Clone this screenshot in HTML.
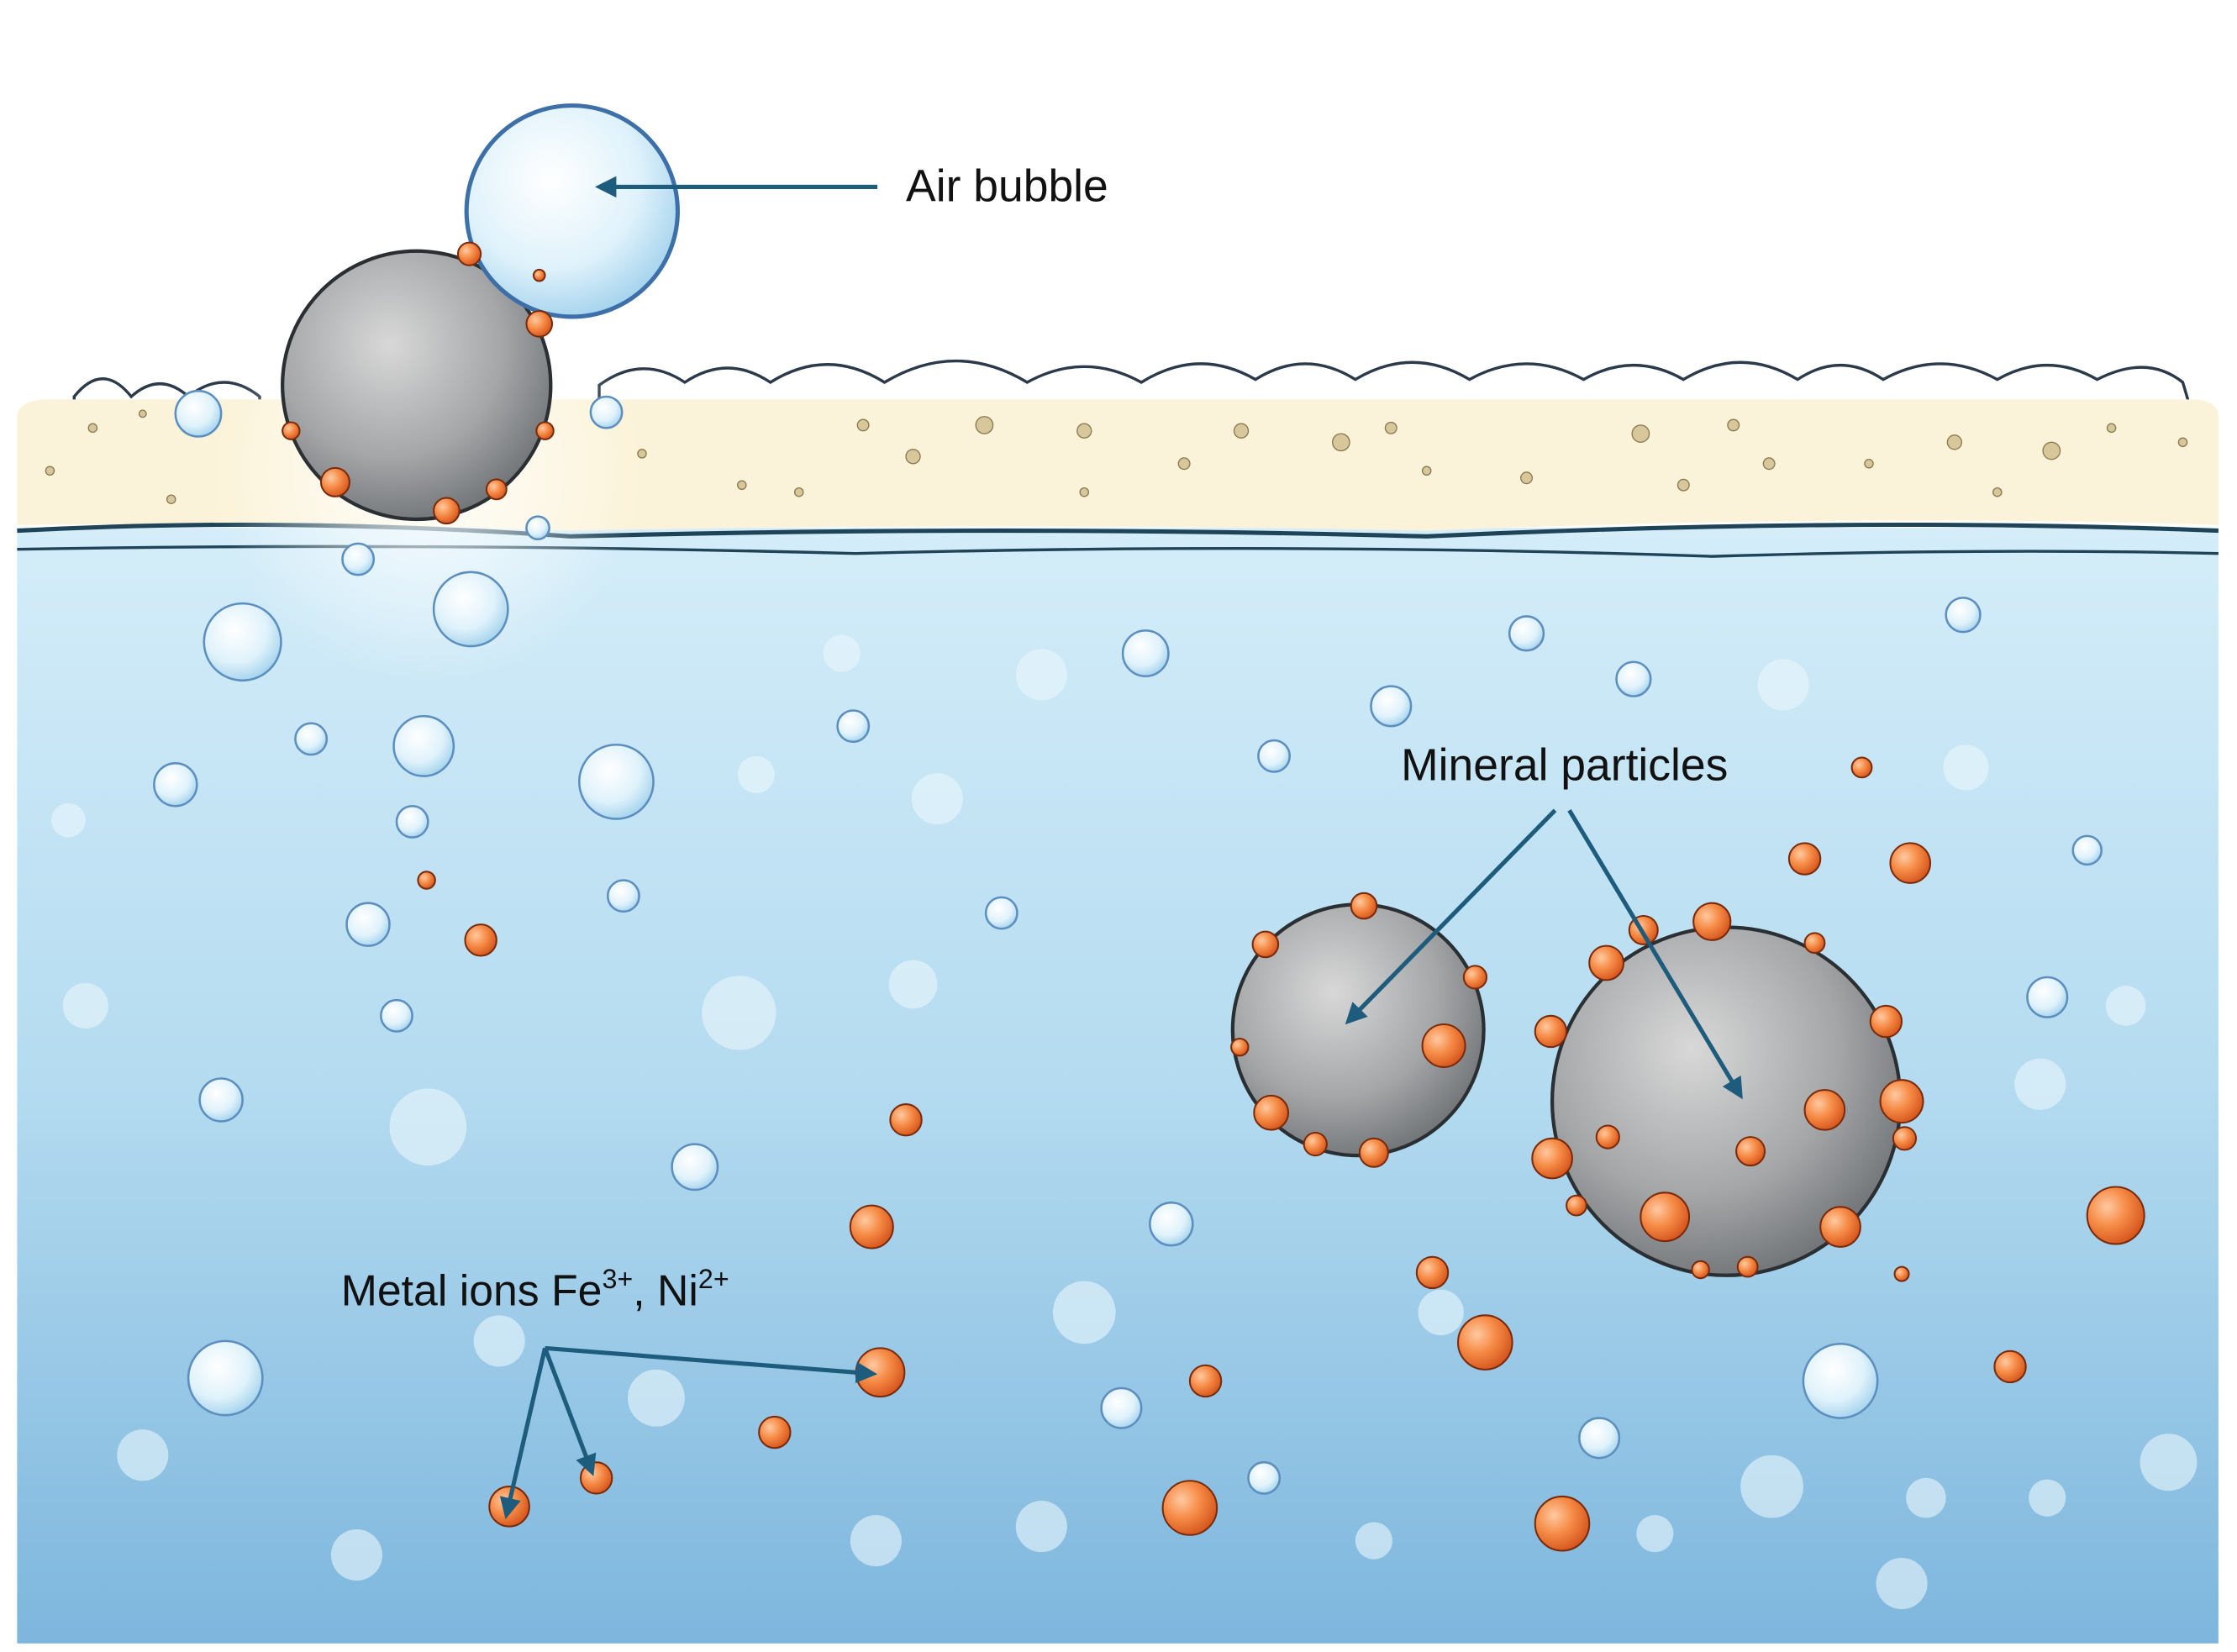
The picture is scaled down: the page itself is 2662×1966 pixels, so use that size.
<!DOCTYPE html>
<html><head><meta charset="utf-8"><style>
html,body{margin:0;padding:0;background:#fff}
svg{display:block}
text{font-family:"Liberation Sans",sans-serif;fill:#111}
</style></head><body>
<svg width="2662" height="1966" viewBox="0 0 1568 1158" preserveAspectRatio="none" xmlns="http://www.w3.org/2000/svg">
<defs>
<linearGradient id="w" x1="0" y1="0" x2="0" y2="1">
<stop offset="0" stop-color="#d4edf9"/><stop offset="0.5" stop-color="#b4dbf0"/><stop offset="1" stop-color="#7db6dd"/>
</linearGradient>
<radialGradient id="b" cx="0.4" cy="0.35" r="0.7">
<stop offset="0" stop-color="#ffffff"/><stop offset="0.6" stop-color="#dff2fb"/><stop offset="1" stop-color="#9fd0ec"/>
</radialGradient>
<radialGradient id="o" cx="0.35" cy="0.35" r="0.7">
<stop offset="0" stop-color="#ffc9a0"/><stop offset="0.5" stop-color="#f58a45"/><stop offset="1" stop-color="#d4541c"/>
</radialGradient>
<radialGradient id="g" cx="0.4" cy="0.35" r="0.7">
<stop offset="0" stop-color="#d8d8d8"/><stop offset="0.6" stop-color="#a4a6a8"/><stop offset="1" stop-color="#6e7174"/>
</radialGradient>
<radialGradient id="glow" cx="0.5" cy="0.5" r="0.5">
<stop offset="0" stop-color="#ffffff" stop-opacity="0.9"/><stop offset="1" stop-color="#ffffff" stop-opacity="0"/>
</radialGradient>
<marker id="ar" viewBox="0 0 10 10" refX="8" refY="5" markerWidth="5" markerHeight="5" orient="auto"><path d="M0,0L10,5L0,10z" fill="#1d5c7c"/></marker>
</defs>
<!-- water -->
<rect x="12" y="370" width="1543" height="782" fill="url(#w)"/>
<!-- froth bumps -->
<path d="M52,285 L52,278 q20,-25 40,0 q20,-18 40,0 q25,-20 50,0 L182,285 Z" fill="#fff" stroke="#2a3a4a" stroke-width="2"/>
<path d="M420,285 L420,270 q30,-22 60,-2 q30,-20 60,0 q40,-25 80,0 q50,-30 100,0 q40,-22 80,0 q40,-25 80,-2 q35,-22 70,0 q40,-24 80,0 q40,-22 80,0 q35,-20 70,0 q40,-24 80,0 q30,-20 60,0 q40,-22 80,0 q35,-20 70,0 q35,-18 60,2 L1535,285 Z" fill="#fff" stroke="#2a3a4a" stroke-width="2"/>
<!-- froth -->
<path d="M12,292 Q12,282 30,280 L1540,280 Q1555,282 1555,292 L1555,368 Q1300,360 1000,372 Q700,366 400,372 Q200,366 12,368 Z" fill="#fbf3d9"/>
<path d="M12,372 Q200,362 400,376 Q700,368 1000,376 Q1300,362 1555,372" fill="none" stroke="#1f4458" stroke-width="3"/>
<path d="M12,385 Q300,380 600,388 Q900,380 1200,390 Q1400,384 1555,388" fill="none" stroke="#1f4458" stroke-width="2"/>
<g fill="#d8c79a" stroke="#8a7a50" stroke-width="0.8">
<circle cx="65" cy="300" r="3"/><circle cx="35" cy="330" r="3"/><circle cx="100" cy="290" r="2.5"/><circle cx="120" cy="350" r="3"/>
<circle cx="450" cy="318" r="3"/><circle cx="520" cy="340" r="3"/><circle cx="605" cy="298" r="4"/><circle cx="640" cy="320" r="5"/>
<circle cx="690" cy="298" r="6"/><circle cx="760" cy="302" r="5"/><circle cx="830" cy="325" r="4"/><circle cx="870" cy="302" r="5"/>
<circle cx="940" cy="310" r="6"/><circle cx="975" cy="300" r="4"/><circle cx="1000" cy="330" r="3"/><circle cx="1070" cy="335" r="4"/>
<circle cx="1150" cy="304" r="6"/><circle cx="1215" cy="298" r="4"/><circle cx="1240" cy="325" r="4"/><circle cx="1310" cy="325" r="3"/>
<circle cx="1370" cy="310" r="5"/><circle cx="1438" cy="316" r="6"/><circle cx="1480" cy="300" r="3"/><circle cx="1530" cy="310" r="3"/>
<circle cx="560" cy="345" r="3"/><circle cx="760" cy="345" r="3"/><circle cx="1180" cy="340" r="4"/><circle cx="1400" cy="345" r="3"/>
</g>
<circle cx="300" cy="330" r="150" fill="url(#glow)"/>
<!-- bubbles -->
<g fill="url(#b)" stroke="#5c8fbf" stroke-width="1.5">
<circle cx="170" cy="450" r="27"/><circle cx="330" cy="427" r="26"/><circle cx="297" cy="523" r="21"/><circle cx="432" cy="548" r="26"/>
<circle cx="123" cy="550" r="15"/><circle cx="218" cy="518" r="11"/><circle cx="289" cy="576" r="11"/><circle cx="258" cy="648" r="15"/>
<circle cx="437" cy="628" r="11"/><circle cx="278" cy="712" r="11"/><circle cx="155" cy="771" r="15"/><circle cx="487" cy="818" r="16"/>
<circle cx="158" cy="966" r="26"/><circle cx="803" cy="458" r="16"/><circle cx="975" cy="495" r="14"/><circle cx="1070" cy="444" r="12"/>
<circle cx="1145" cy="476" r="12"/><circle cx="893" cy="530" r="11"/><circle cx="1376" cy="431" r="12"/><circle cx="702" cy="640" r="11"/>
<circle cx="1435" cy="699" r="14"/><circle cx="1463" cy="596" r="10"/><circle cx="821" cy="858" r="15"/><circle cx="786" cy="987" r="14"/>
<circle cx="1290" cy="968" r="26"/><circle cx="1121" cy="1008" r="14"/><circle cx="886" cy="1036" r="11"/><circle cx="139" cy="290" r="16"/>
<circle cx="425" cy="289" r="11"/><circle cx="251" cy="392" r="11"/><circle cx="377" cy="370" r="8"/><circle cx="598" cy="509" r="11"/>
</g>
<g fill="#eaf6fc" opacity="0.6">
<circle cx="730" cy="473" r="18"/><circle cx="657" cy="560" r="18"/><circle cx="518" cy="710" r="26"/><circle cx="300" cy="790" r="27"/>
<circle cx="590" cy="458" r="13"/><circle cx="530" cy="543" r="13"/><circle cx="760" cy="920" r="22"/><circle cx="1242" cy="1042" r="22"/>
<circle cx="1333" cy="1110" r="18"/><circle cx="1520" cy="1025" r="20"/><circle cx="1435" cy="1050" r="13"/><circle cx="614" cy="1080" r="18"/>
<circle cx="963" cy="1080" r="13"/><circle cx="1160" cy="1075" r="13"/><circle cx="1250" cy="480" r="18"/><circle cx="1378" cy="538" r="16"/>
<circle cx="60" cy="705" r="16"/><circle cx="48" cy="575" r="12"/><circle cx="1490" cy="705" r="14"/><circle cx="1430" cy="760" r="18"/>
<circle cx="460" cy="980" r="20"/><circle cx="350" cy="940" r="18"/><circle cx="640" cy="690" r="17"/><circle cx="1010" cy="920" r="16"/>
<circle cx="100" cy="1020" r="18"/><circle cx="250" cy="1090" r="18"/><circle cx="730" cy="1070" r="18"/><circle cx="1350" cy="1050" r="14"/>
</g>
<!-- particles -->
<g stroke="#2a2f33" stroke-width="2.5" fill="url(#g)">
<circle cx="292" cy="270" r="94"/><circle cx="952" cy="722" r="88"/><circle cx="1210" cy="772" r="122"/>
</g>
<circle cx="401" cy="148" r="74" fill="url(#b)" stroke="#3d6fa8" stroke-width="3"/>
<!-- orange -->
<g fill="url(#o)" stroke="#7a2a0a" stroke-width="1.2">
<circle cx="329" cy="178" r="8"/><circle cx="378" cy="227" r="9"/><circle cx="235" cy="338" r="10"/><circle cx="313" cy="358" r="9"/><circle cx="348" cy="343" r="7"/><circle cx="378" cy="193" r="4"/><circle cx="204" cy="302" r="6"/><circle cx="382" cy="302" r="6"/>
<circle cx="337" cy="659" r="11"/><circle cx="299" cy="617" r="6"/><circle cx="635" cy="785" r="11"/><circle cx="611" cy="860" r="15"/>
<circle cx="617" cy="962" r="17"/><circle cx="543" cy="1004" r="11"/><circle cx="418" cy="1036" r="11"/><circle cx="357" cy="1056" r="14"/>
<circle cx="834" cy="1057" r="19"/><circle cx="845" cy="968" r="11"/><circle cx="1041" cy="941" r="19"/><circle cx="1004" cy="892" r="11"/>
<circle cx="1095" cy="1068" r="19"/><circle cx="1409" cy="958" r="11"/><circle cx="1483" cy="852" r="20"/><circle cx="1265" cy="602" r="11"/>
<circle cx="1339" cy="605" r="14"/><circle cx="1305" cy="538" r="7"/><circle cx="1333" cy="893" r="5"/>
<circle cx="956" cy="635" r="9"/><circle cx="887" cy="662" r="9"/><circle cx="1034" cy="685" r="8"/><circle cx="1012" cy="733" r="15"/>
<circle cx="891" cy="780" r="12"/><circle cx="963" cy="808" r="10"/><circle cx="922" cy="802" r="8"/><circle cx="869" cy="734" r="6"/>
<circle cx="1200" cy="646" r="13"/><circle cx="1152" cy="652" r="10"/><circle cx="1126" cy="675" r="12"/><circle cx="1272" cy="661" r="7"/>
<circle cx="1322" cy="716" r="11"/><circle cx="1333" cy="772" r="15"/><circle cx="1087" cy="723" r="11"/><circle cx="1088" cy="812" r="14"/>
<circle cx="1127" cy="797" r="8"/><circle cx="1167" cy="853" r="17"/><circle cx="1279" cy="778" r="14"/><circle cx="1227" cy="807" r="10"/>
<circle cx="1290" cy="860" r="14"/><circle cx="1335" cy="798" r="8"/><circle cx="1225" cy="888" r="7"/><circle cx="1192" cy="890" r="6"/><circle cx="1105" cy="845" r="7"/>
</g>
<!-- arrows -->
<g stroke="#1d5c7c" stroke-width="3" fill="none" marker-end="url(#ar)">
<line x1="615" y1="131" x2="420" y2="131"/>
<line x1="1090" y1="568" x2="945" y2="716"/>
<line x1="1100" y1="568" x2="1220" y2="768"/>
<line x1="382" y1="945" x2="355" y2="1062"/>
<line x1="382" y1="945" x2="415" y2="1032"/>
<line x1="382" y1="945" x2="612" y2="963"/>
</g>
<text x="635" y="141" font-size="31.5">Air bubble</text>
<text x="982" y="547" font-size="31.5">Mineral particles</text>
<text x="239" y="915" font-size="30.5">Metal ions Fe<tspan font-size="19" dy="-12">3+</tspan><tspan dy="12">, Ni</tspan><tspan font-size="19" dy="-12">2+</tspan></text>
</svg>
</body></html>
